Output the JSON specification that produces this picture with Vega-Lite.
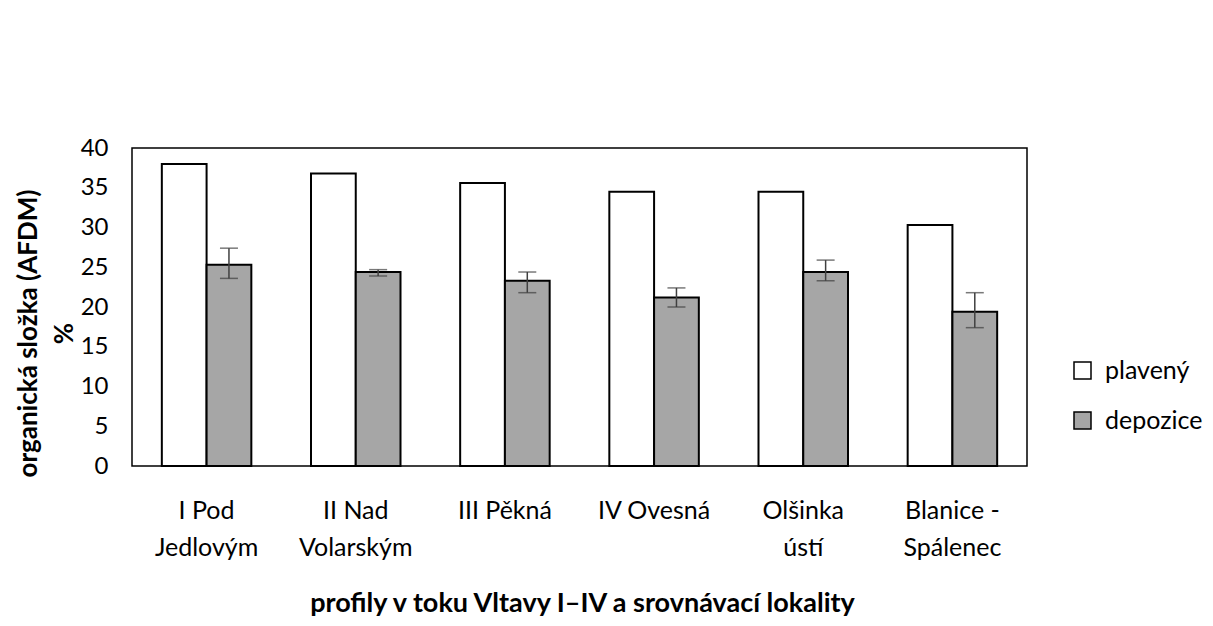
{
  "$schema": "https://vega.github.io/schema/vega-lite/v6.json",
  "autosize": {"type": "none"},
  "padding": {"left": 132, "top": 148, "right": 186, "bottom": 160},
  "width": 895,
  "height": 318,
  "background": "white",
  "config": {
    "font": "Lato",
    "view": {"stroke": "#000000", "strokeWidth": 1.5},
    "axis": {"grid": false, "domain": false, "ticks": false, "tickSize": 0, "labelColor": "#000", "titleColor": "#000", "labelOverlap": false},
    "axisY": {"labelOverlap": false, "labelFontSize": 24, "labelPadding": 24}
  },
  "data": {
    "values": [
      {"site": "I Pod|Jedlovým", "series": "plavený", "value": 38.0},
      {"site": "I Pod|Jedlovým", "series": "depozice", "value": 25.3, "lo": 23.6, "hi": 27.4},
      {"site": "II Nad|Volarským", "series": "plavený", "value": 36.8},
      {"site": "II Nad|Volarským", "series": "depozice", "value": 24.4, "lo": 23.9, "hi": 24.7},
      {"site": "III Pěkná", "series": "plavený", "value": 35.6},
      {"site": "III Pěkná", "series": "depozice", "value": 23.3, "lo": 21.8, "hi": 24.4},
      {"site": "IV Ovesná", "series": "plavený", "value": 34.5},
      {"site": "IV Ovesná", "series": "depozice", "value": 21.2, "lo": 20.0, "hi": 22.4},
      {"site": "Olšinka|ústí", "series": "plavený", "value": 34.5},
      {"site": "Olšinka|ústí", "series": "depozice", "value": 24.4, "lo": 23.3, "hi": 25.9},
      {"site": "Blanice -|Spálenec", "series": "plavený", "value": 30.3},
      {"site": "Blanice -|Spálenec", "series": "depozice", "value": 19.4, "lo": 17.4, "hi": 21.8}
    ]
  },
  "encoding": {
    "x": {
      "field": "site",
      "type": "nominal",
      "sort": null,
      "scale": {"paddingInner": 0.4, "paddingOuter": 0.2},
      "axis": {
        "labelAngle": 0,
        "labelExpr": "split(datum.value, '|')",
        "labelFontSize": 25,
        "labelBaseline": "top",
        "labelPadding": 32,
        "labelLineHeight": 37,
        "title": "profily v toku Vltavy I–IV a srovnávací lokality",
        "titleFontSize": 27,
        "titleFontWeight": "bold",
        "titleBaseline": "alphabetic",
        "titleY": 145,
        "titleX": 450
      }
    },
    "xOffset": {"field": "series", "type": "nominal", "sort": ["plavený", "depozice"], "scale": {"paddingInner": 0, "paddingOuter": 0}}
  },
  "layer": [
    {
      "mark": {"type": "bar", "stroke": "#000000", "strokeWidth": 2},
      "encoding": {
        "y": {
          "field": "value",
          "type": "quantitative",
          "scale": {"domain": [0, 40], "nice": false},
          "axis": {
            "values": [0, 5, 10, 15, 20, 25, 30, 35, 40],
            "labelOverlap": false,
            "title": ["organická složka (AFDM)", "%"],
            "titleFontSize": 26,
            "titleFontWeight": "bold",
            "titleAngle": -90,
            "titleAlign": "center",
            "titleBaseline": "top",
            "titleLineHeight": 36,
            "titleX": -117,
            "titleY": 185
          }
        },
        "fill": {
          "field": "series",
          "type": "nominal",
          "sort": ["plavený", "depozice"],
          "scale": {"domain": ["plavený", "depozice"], "range": ["#ffffff", "#a6a6a6"]},
          "legend": {
            "title": null,
            "orient": "none",
            "legendX": 938,
            "legendY": 210,
            "symbolType": "square",
            "symbolSize": 289,
            "symbolStrokeColor": "#000000",
            "symbolStrokeWidth": 1.5,
            "labelFontSize": 25,
            "labelOffset": 10,
            "rowPadding": 24,
            "labelColor": "#000"
          }
        }
      }
    },
    {
      "transform": [{"filter": "datum.series === 'depozice'"}],
      "mark": {"type": "rule", "color": "#404040", "strokeWidth": 1.5},
      "encoding": {
        "y": {"field": "lo", "type": "quantitative", "axis": {"values": [0, 5, 10, 15, 20, 25, 30, 35, 40], "labelOverlap": false}},
        "y2": {"field": "hi"}
      }
    },
    {
      "transform": [{"filter": "datum.series === 'depozice'"}],
      "mark": {"type": "tick", "color": "#404040", "size": 18, "thickness": 1.5},
      "encoding": {"y": {"field": "lo", "type": "quantitative", "axis": {"values": [0, 5, 10, 15, 20, 25, 30, 35, 40], "labelOverlap": false}}}
    },
    {
      "transform": [{"filter": "datum.series === 'depozice'"}],
      "mark": {"type": "tick", "color": "#404040", "size": 18, "thickness": 1.5},
      "encoding": {"y": {"field": "hi", "type": "quantitative", "axis": {"values": [0, 5, 10, 15, 20, 25, 30, 35, 40], "labelOverlap": false}}}
    }
  ]
}
